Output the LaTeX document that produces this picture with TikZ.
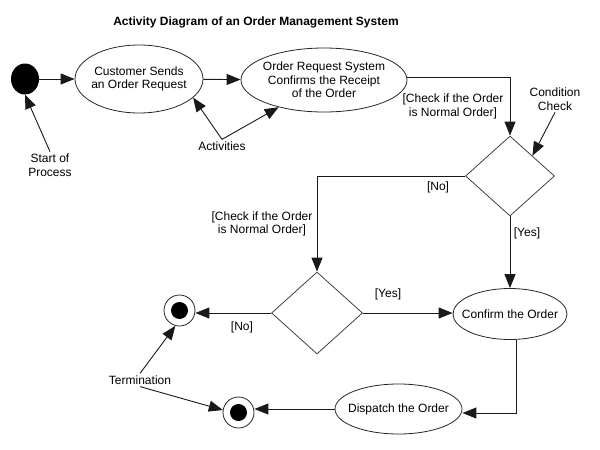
\documentclass[tikz,border=0pt]{standalone}
\usepackage{fontspec}
\setmainfont{Liberation Sans}
\usetikzlibrary{shapes.geometric,arrows.meta}
\begin{document}
\begin{tikzpicture}[x=1pt,y=-1pt,
  txt/.style={font=\fontsize{12}{13.5}\selectfont, align=center, inner sep=2pt},
  actbox/.style={ellipse, draw=black!85, line width=0.8pt, inner xsep=-10pt, inner ysep=0pt,
    font=\fontsize{12}{13.5}\selectfont, align=center},
  decbox/.style={diamond, draw=black!75, line width=0.8pt, inner sep=0pt},
  startdot/.style={ellipse, fill=black, minimum width=28pt, minimum height=31pt, inner sep=0pt},
  endring/.style={circle, draw=black!85, line width=0.8pt, minimum size=31pt, inner sep=0pt},
  arr/.style={draw=black!90, line width=0.9pt, -{Triangle[length=14pt,width=11pt]}},
  ln/.style={draw=black!90, line width=0.9pt}]
\useasboundingbox (0,0) rectangle (600,450);

% title
\node[txt, font=\fontsize{12}{13.5}\selectfont\bfseries] (title) at (256,22) {Activity Diagram of an Order Management System};

% nodes
\node[startdot] (start) at (25,79) {};
\node[actbox, minimum width=128pt, minimum height=68pt] (e1) at (139,79) {Customer Sends\\an Order Request};
\node[actbox, minimum width=166pt, minimum height=64pt] (e2) at (324,80) {Order Request System\\Confirms the Receipt\\of the Order};
\node[decbox, minimum width=89pt, minimum height=80pt] (d1) at (510,176) {};
\node[decbox, minimum width=91pt, minimum height=82pt] (d2) at (317,313) {};
\node[actbox, minimum width=114pt, minimum height=51pt] (conf) at (510,314) {Confirm the Order};
\node[actbox, minimum width=127pt, minimum height=50pt] (disp) at (398.5,409) {Dispatch the Order};
\node[endring] (end1) at (179.5,310.5) {};
\node[endring] (end2) at (238.5,412.5) {};
\fill (end1.center) circle (8.5pt);
\fill (end2.center) circle (8.5pt);

% labels
\node[txt] (sop) at (50,165) {Start of\\Process};
\node[txt] (act) at (222,146) {Activities};
\node[txt] (cc) at (555,99) {Condition\\Check};
\node[txt] (term) at (140,380) {Termination};
\node[txt] (chk1) at (453,106.5) {[Check if the Order\\is Normal Order]};
\node[txt] (chk2) at (262,224) {[Check if the Order\\is Normal Order]};
\node[txt] (no1) at (438,187) {[No]};
\node[txt] (yes1) at (527,233) {[Yes]};
\node[txt] (yes2) at (388,294) {[Yes]};
\node[txt] (no2) at (242,327) {[No]};

% flow
\draw[arr] (start) -- (e1);
\draw[arr] (e1) -- (e2);
\draw[arr] ([yshift=3pt]e2.east) -| (d1.north);
\draw[arr] (d1.west) -| (d2.north);
\draw[arr] (d1.south) -- (conf.north);
\draw[arr] (d2.east) -- (d2.east -| conf.west);
\draw[arr] (d2.west) -- (d2.west -| end1.east);
\draw[arr] ([xshift=6pt]conf.south) |- ([yshift=-4pt]disp.east);
\draw[arr] (disp.west) -- (disp.west -| end2.east);

% annotations
\draw[arr] (sop.north) -- (start.south);
\draw[arr] (act.north) -- (e1.-19);
\draw[arr] (act.north) -- (e2.211);
\draw[arr] (cc.south) -- (d1.north east);
\draw[arr] (term.north) -- (end1.-105);
\draw[arr] (term.south) -- (end2.171);
\end{tikzpicture}
\end{document}
